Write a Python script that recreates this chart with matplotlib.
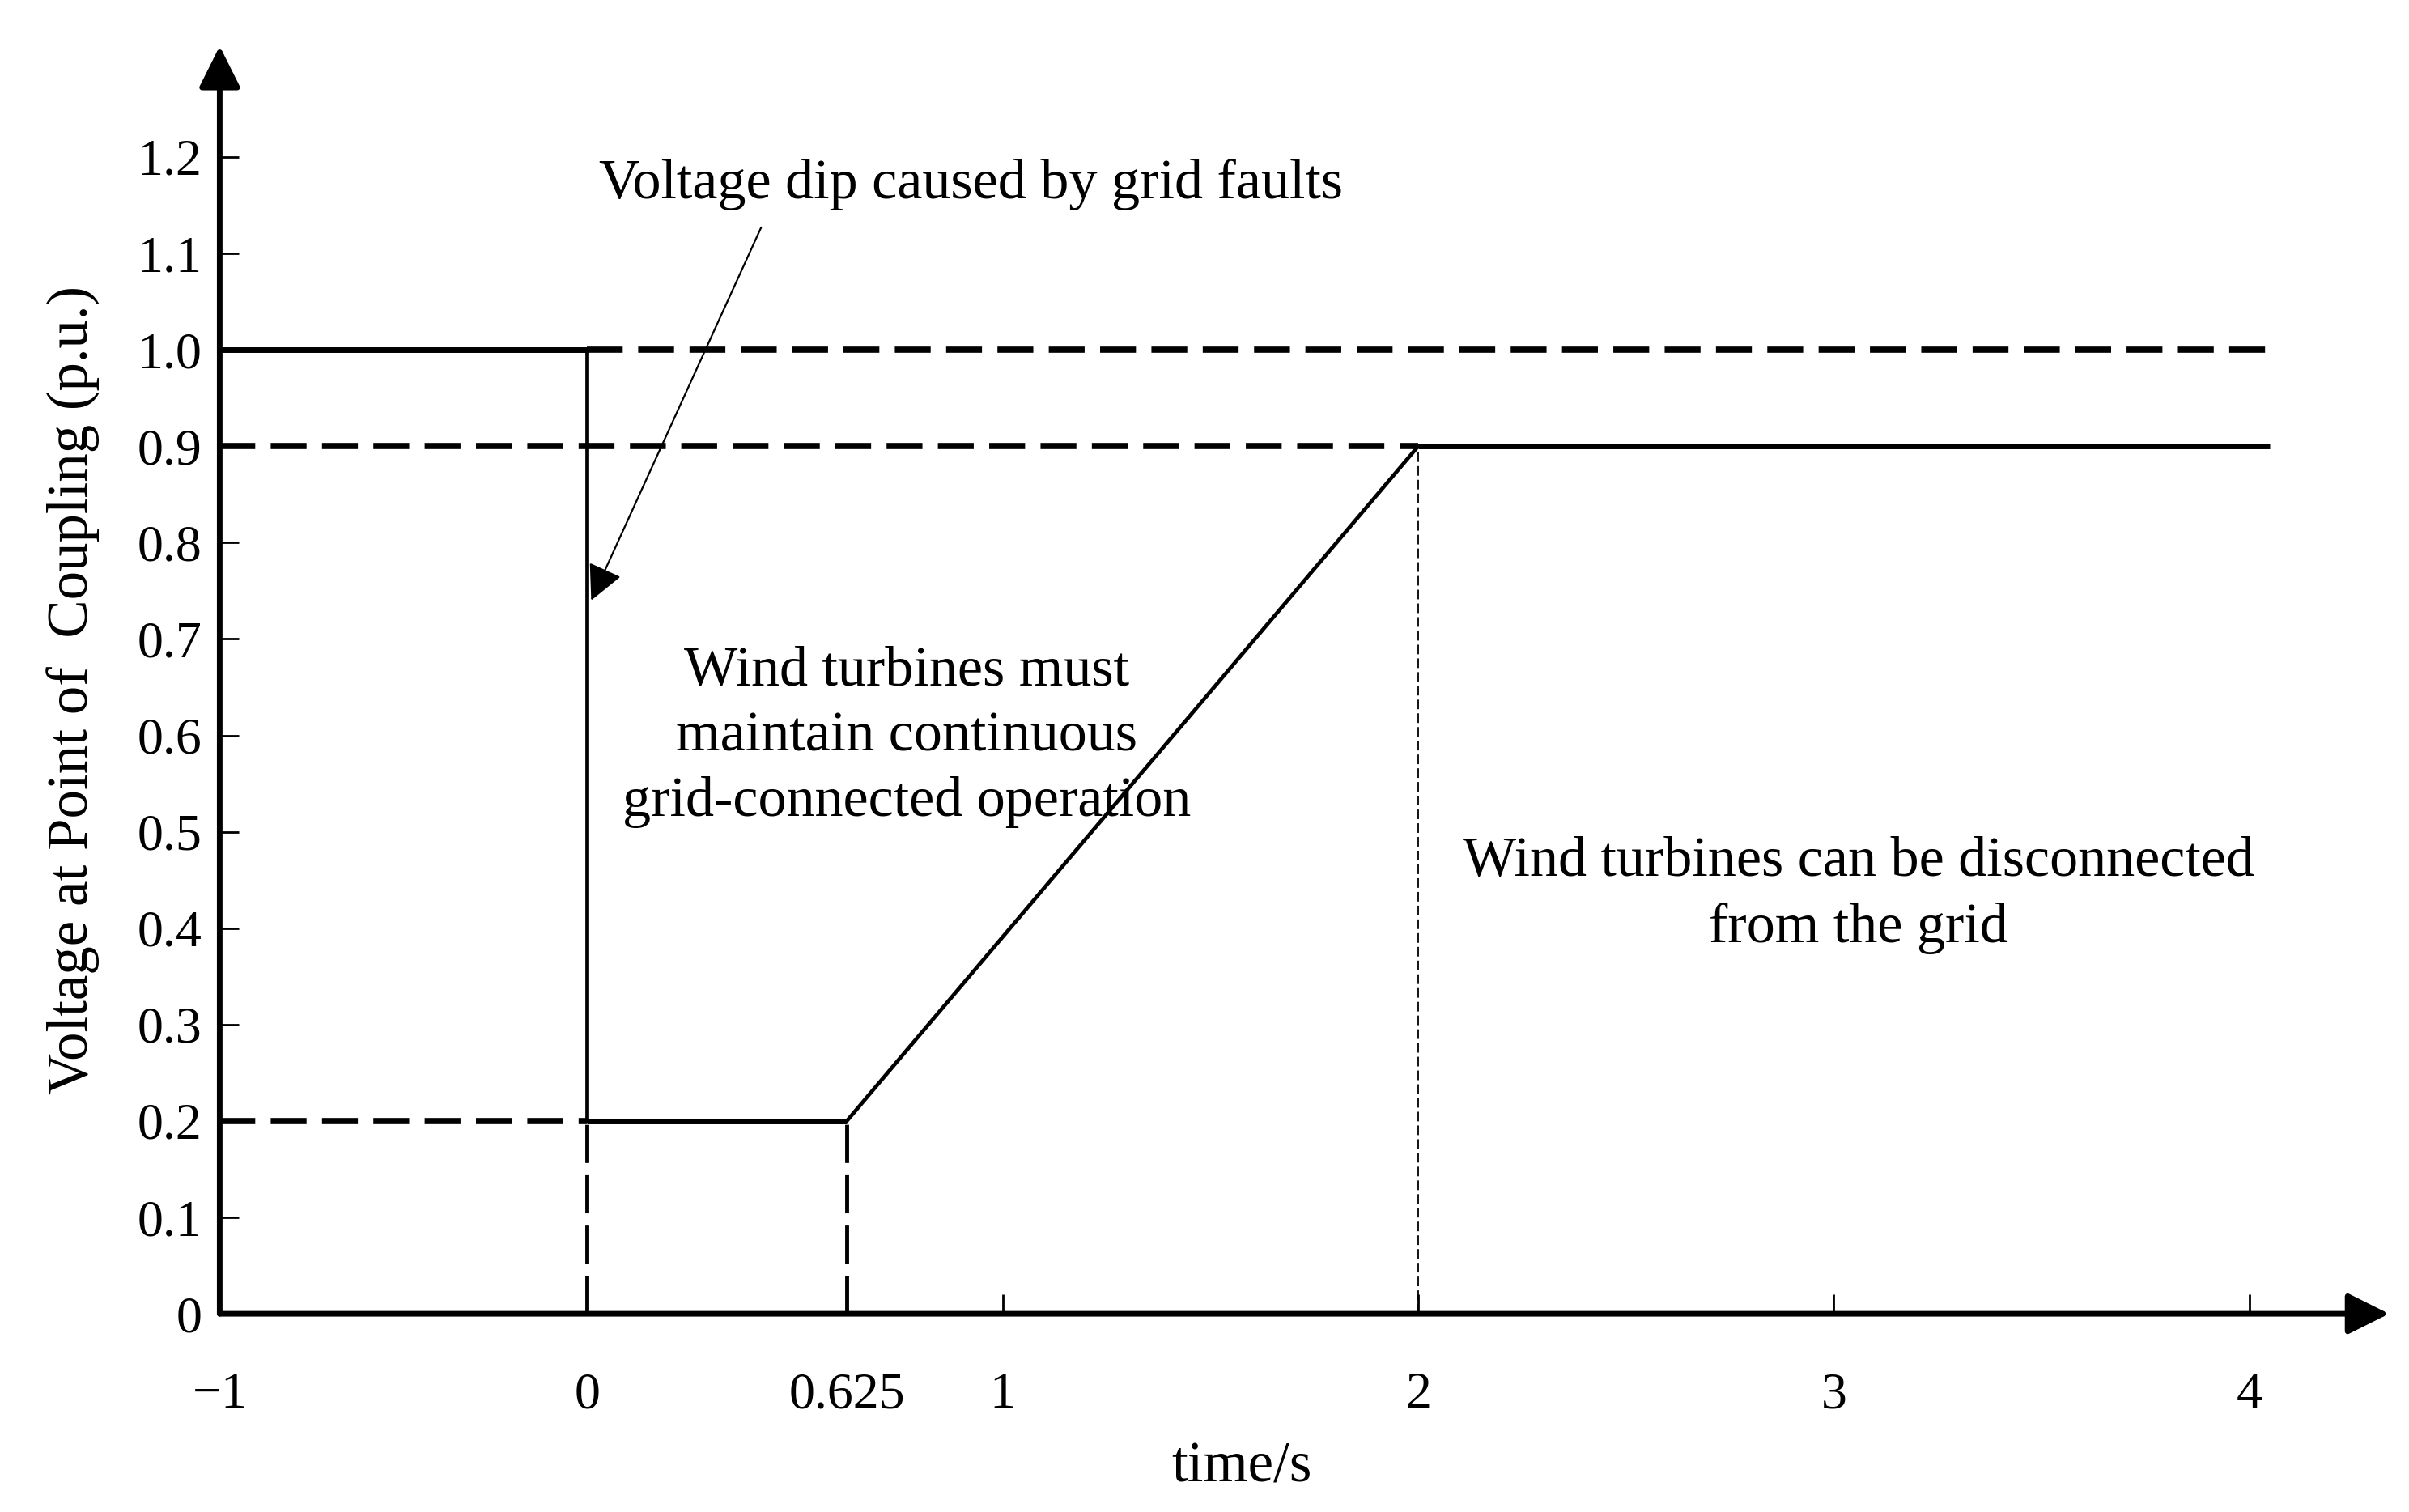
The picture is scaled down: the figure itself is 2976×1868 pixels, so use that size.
import numpy as np
import matplotlib
matplotlib.use("Agg")
from matplotlib import pyplot as plt

# profile of the fault ride-through curve
fault_t = [-1, 0, 0, 0.625, 2, 4.05]
fault_v = [1.0, 1.0, 0.2, 0.2, 0.9, 0.9]

# reference levels
ref_levels = [1.0, 0.9, 0.2]
ref_starts = [0, -1, -1]
ref_ends = [4.05, 2, 0]

drop_marks_t = [0, 0.625]
drop_marks_v = [0.2, 0.2]
recover_t = 2
recover_v = 0.9

xticks = [-1, 0, 0.625, 1, 2, 3, 4]
xtick_labels = ['\u22121', '0', '0.625', '1', '2', '3', '4']
yticks = [0, 0.1, 0.2, 0.3, 0.4, 0.5, 0.6, 0.7, 0.8, 0.9, 1.0, 1.1, 1.2]
ytick_labels = ['0', '0.1', '0.2', '0.3', '0.4', '0.5', '0.6', '0.7', '0.8',
                '0.9', '1.0', '1.1', '1.2']

plt.rcParams['font.family'] = ['Liberation Serif', 'DejaVu Serif']

k = 0.884  # the negative part of the time axis is drawn a bit shorter


def fwd(x):
    x = np.asarray(x, dtype=float)
    return np.where(x < 0, k * x, x)


def inv(y):
    y = np.asarray(y, dtype=float)
    return np.where(y < 0, y / k, y)


fig = plt.figure(figsize=(29.76, 18.68), dpi=100)
ax = fig.add_axes([0.0912, 0.1311, 0.9005, 0.8384])
ax.set_xscale('function', functions=(fwd, inv))
ax.set_xlim(-1, 4.336)
ax.set_ylim(0, 1.315)

for s in ax.spines.values():
    s.set_visible(False)

# axes with arrow heads
arr = dict(arrowstyle='-|>', lw=5, color='black', mutation_scale=78,
           shrinkA=0, shrinkB=0)
ax.annotate('', xy=(1, 0), xytext=(0, 0), xycoords='axes fraction',
            arrowprops=arr, annotation_clip=False)
ax.annotate('', xy=(0, 1), xytext=(0, 0), xycoords='axes fraction',
            arrowprops=arr, annotation_clip=False)

# dashed reference levels
for lvl, a, b in zip(ref_levels, ref_starts, ref_ends):
    ln, = ax.plot([a, b], [lvl, lvl], color='black', lw=5.5, solid_capstyle='butt')
    ln.set_dashes((5.8, 2.5))

# dashed drops to the time axis
for t, v in zip(drop_marks_t, drop_marks_v):
    ln, = ax.plot([t, t], [0, v], color='black', lw=3.5)
    ln.set_dashes((9.7, 3.1))
ln, = ax.plot([recover_t, recover_t], [0, recover_v], color='black', lw=1.3)
ln.set_dashes((6.6, 2.8))

# the solid curve
ax.plot(fault_t[:2], fault_v[:2], color='black', lw=5, solid_capstyle='butt')
ax.plot(fault_t[1:3], fault_v[1:3], color='black', lw=3.4)
ax.plot(fault_t[2:4], fault_v[2:4], color='black', lw=5, solid_capstyle='butt')
ax.plot(fault_t[3:5], fault_v[3:5], color='black', lw=3.4)
ax.plot(fault_t[4:], fault_v[4:], color='black', lw=5, solid_capstyle='butt')

ax.set_xticks(xticks)
ax.set_xticklabels(xtick_labels)
ax.set_yticks(yticks)
ax.set_yticklabels(ytick_labels)
ax.tick_params(axis='both', direction='in', length=17, width=2, labelsize=46)
ax.tick_params(axis='x', pad=52)
ax.tick_params(axis='y', pad=16)

ax.set_xlabel('time/s', fontsize=51)
ax.xaxis.set_label_coords(0.471, -0.121)
ax.xaxis.label.set_va('center')
ax.set_ylabel('Voltage at Point of  Coupling (p.u.)', fontsize=51)
ax.yaxis.set_label_coords(-0.0675, 0.492)
ax.yaxis.label.set_va('center')

ax.annotate('', xy=(0.01, 0.74), xytext=(0.419, 1.127),
            arrowprops=dict(arrowstyle='-|>', lw=1.6, color='black',
                            mutation_scale=68, shrinkA=0, shrinkB=0))
ax.text(0.923, 1.157, 'Voltage dip caused by grid faults', fontsize=50.5,
        ha='center', va='baseline')
ax.text(0.769, 0.598, 'Wind turbines must\nmaintain continuous\ngrid-connected operation',
        fontsize=50.5, ha='center', va='center', linespacing=1.35)
ax.text(3.06, 0.434, 'Wind turbines can be disconnected\nfrom the grid',
        fontsize=50.5, ha='center', va='center', linespacing=1.35)

fig.savefig('out.png', dpi=100)
